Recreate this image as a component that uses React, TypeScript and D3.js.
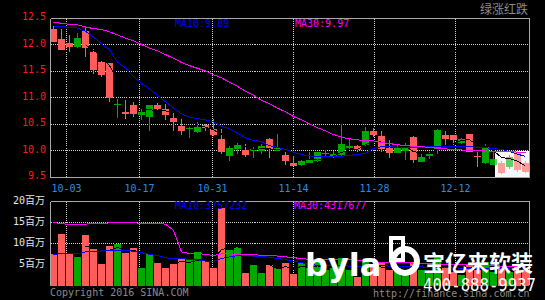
import React, { useEffect } from 'react';
import * as d3 from 'd3';

// ---- data ----
const opens = [12.29, 12.10, 12.03, 11.96, 12.25, 11.86, 11.67, 11.65, 10.86, 10.73,
  10.85, 10.67, 10.64, 10.86, 10.78, 10.62, 10.46, 10.40, 10.34, 10.49,
  10.41, 10.22, 9.90, 10.03, 10.01, 10.00, 9.99, 10.21, 10.00, 9.92,
  9.76, 9.73, 9.77, 9.80, 9.93, 9.90, 9.92, 10.05, 10.09, 10.10,
  10.36, 10.28, 10.05, 9.96, 9.99, 10.26, 9.79, 9.89, 10.02, 10.29,
  10.29, 10.15, 10.31, 9.89, 9.77, 9.73, 9.76, 9.69, 9.98, 9.76];
const closes = [12.05, 11.90, 11.96, 12.12, 11.94, 11.52, 11.42, 11.00, 10.88, 10.69,
  10.69, 10.73, 10.86, 10.78, 10.67, 10.54, 10.36, 10.42, 10.44, 10.43,
  10.29, 9.98, 10.05, 10.10, 9.92, 10.02, 10.09, 10.02, 10.04, 9.80,
  9.71, 9.80, 9.82, 9.97, 9.96, 9.94, 10.12, 10.09, 10.01, 10.37,
  10.29, 10.03, 9.96, 10.05, 10.04, 9.82, 9.88, 9.93, 10.39, 10.22,
  10.20, 10.22, 9.98, 9.87, 10.07, 9.84, 9.58, 9.88, 9.63, 9.60];
const highs = [12.34, 12.30, 12.18, 12.22, 12.31, 11.91, 11.69, 11.66, 10.97, 10.95,
  10.93, 10.79, 10.86, 10.90, 10.87, 10.70, 10.59, 10.44, 10.54, 10.50,
  10.60, 10.41, 10.08, 10.15, 10.12, 10.07, 10.12, 10.23, 10.32, 9.98,
  9.90, 9.82, 9.98, 9.98, 10.01, 9.99, 10.50, 10.23, 10.10, 10.45,
  10.43, 10.36, 10.20, 10.15, 10.14, 10.27, 9.95, 9.97, 10.40, 10.37,
  10.30, 10.23, 10.32, 9.97, 10.12, 9.97, 9.80, 9.92, 10.00, 9.80];
const lows = [12.05, 11.90, 11.85, 11.94, 11.76, 11.44, 11.38, 10.92, 10.62, 10.60,
  10.64, 10.58, 10.36, 10.75, 10.58, 10.36, 10.30, 10.23, 10.33, 10.36,
  10.27, 9.93, 9.81, 9.93, 9.87, 9.85, 9.94, 9.85, 9.99, 9.72,
  9.70, 9.71, 9.76, 9.78, 9.87, 9.85, 9.90, 10.03, 9.98, 10.08,
  10.26, 9.98, 9.86, 9.95, 9.83, 9.76, 9.78, 9.84, 9.93, 10.10,
  10.10, 10.12, 9.97, 9.68, 9.74, 9.72, 9.55, 9.66, 9.60, 9.57];
// volume, millions of shares
const volumes = [7.5, 12.2, 7.6, 6.7, 11.9, 8.6, 5.0, 9.4, 9.8, 7.7,
  8.9, 4.1, 7.4, 5.3, 4.1, 5.0, 6.3, 6.1, 7.9, 5.8,
  4.1, 18.3, 8.3, 9.0, 2.8, 4.8, 2.9, 4.8, 4.0, 5.3,
  2.6, 5.3, 4.0, 5.5, 3.5, 4.0, 6.5, 3.5, 1.8, 6.0,
  4.5, 5.5, 3.5, 4.0, 3.0, 5.5, 3.5, 3.0, 6.5, 4.0,
  3.0, 2.5, 5.0, 3.5, 5.5, 3.0, 4.0, 3.0, 4.5, 3.5];
const ma10 = [12.35, 12.34, 12.32, 12.31, 12.25, 12.14, 12.01, 11.90, 11.67, 11.56,
  11.39, 11.27, 11.16, 11.04, 10.92, 10.80, 10.69, 10.63, 10.60, 10.58,
  10.54, 10.46, 10.41, 10.33, 10.24, 10.19, 10.17, 10.09, 10.06, 10.02,
  9.97, 9.92, 9.90, 9.88, 9.88, 9.88, 9.89, 9.91, 9.92, 9.95,
  10.04, 10.07, 10.07, 10.06, 10.05, 10.05, 10.06, 10.07, 10.07, 10.08,
  10.07, 10.07, 10.07, 10.06, 10.05, 10.04, 10.02, 9.98, 9.93, 9.89];
const ma30 = [12.42, 12.40, 12.38, 12.37, 12.33, 12.30, 12.28, 12.24, 12.18, 12.12,
  12.07, 12.00, 11.93, 11.88, 11.81, 11.74, 11.66, 11.60, 11.55, 11.50,
  11.43, 11.37, 11.29, 11.21, 11.12, 11.04, 10.95, 10.88, 10.80, 10.73,
  10.64, 10.58, 10.50, 10.43, 10.37, 10.30, 10.25, 10.22, 10.20, 10.19,
  10.18, 10.15, 10.13, 10.11, 10.09, 10.08, 10.07, 10.06, 10.04, 10.03,
  10.02, 10.01, 10.00, 10.00, 9.99, 9.99, 9.98, 9.98, 9.97, 9.97];
const volMa10Last = 3757232;
const volMa30Last = 4317677;
const volMa10 = [7.2, 7.6, 7.6, 7.4, 7.9, 8.0, 8.1, 8.2, 8.2, 8.3,
  8.0, 7.7, 7.3, 7.0, 6.5, 6.2, 6.3, 6.1, 6.0, 5.7,
  5.6, 6.3, 6.7, 7.0, 7.0, 6.9, 6.9, 6.6, 6.3, 6.0,
  5.7, 5.3, 4.9, 4.7, 4.7, 4.6, 4.6, 4.5, 4.5, 4.5,
  4.6, 4.6, 4.5, 4.4, 4.4, 4.4, 4.3, 4.2, 4.2, 4.2,
  4.1, 4.0, 4.0, 4.0, 4.0, 3.9, 3.9, 3.8, 3.8, volMa10Last / 1e6];
const volMa30 = [14.9, 14.6, 14.4, 14.4, 14.5, 14.6, 14.6, 14.8, 14.9, 14.9,
  14.8, 14.7, 14.7, 14.6, 14.5, 13.0, 7.9, 7.5, 7.5, 7.3,
  7.0, 7.4, 7.4, 7.3, 7.3, 7.2, 7.1, 7.0, 6.9, 6.7,
  6.5, 6.3, 6.1, 6.0, 6.0, 6.0, 6.0, 6.0, 5.9, 5.7,
  5.5, 5.4, 5.4, 5.3, 5.3, 5.2, 5.2, 5.1, 5.0, 5.0,
  4.9, 4.8, 4.8, 4.7, 4.6, 4.6, 4.5, 4.4, 4.4, volMa30Last / 1e6];
const xTickLabels = ['10-03', '10-17', '10-31', '11-14', '11-28', '12-12'];
const xTickIdx = [2.06, 11.19, 20.31, 30.44, 40.56, 50.69];
const priceTicks = [12.5, 12.0, 11.5, 11.0, 10.5, 10.0, 9.5];
const volTicks = [20, 15, 10, 5];
const volTickLabels = ['20百万', '15百万', '10百万', '5百万'];

const UP = '#00a800';
const DOWN = '#ff5c5c';
const MONO = "'DejaVu Sans Mono', monospace";
const MONO_CJK = "'DejaVu Sans Mono', 'Noto Sans CJK SC', monospace";

function movingAvg(arr: number[], k: number): (number | null)[] {
  return arr.map((_, i) => (i < k - 1 ? null : d3.mean(arr.slice(i - k + 1, i + 1)) as number));
}

export default function App() {
  useEffect(() => {
    document.body.style.margin = '0';
    document.body.style.background = '#000';
  }, []);

  const n = opens.length;
  const x = d3.scaleLinear().domain([0, n]).range([50, 530]);
  const y = d3.scaleLinear().domain([9.5, 12.5]).range([177, 18]);
  const yv = d3.scaleLinear().domain([0, 20]).range([285, 201]);
  const cx = (i: number) => x(i) + 3.5;
  const px = (v: number) => Math.floor(v) + 0.5;

  const ma5 = movingAvg(closes, 5);
  const volMa5 = movingAvg(volumes, 5);

  const priceLine = d3.line<number | null>()
    .defined((d) => d != null)
    .x((_, i) => cx(i))
    .y((d) => y(d as number));
  const volLine = d3.line<number | null>()
    .defined((d) => d != null)
    .x((_, i) => cx(i))
    .y((d) => yv(d as number));

  const L = 50.5, R = 529.5;
  const PT = px(y(12.5)), PB = px(y(9.5));
  const VT = px(yv(20)), VB = 285;

  return (
    <svg width={545} height={300} style={{ display: 'block', position: 'absolute', left: 0, top: 0, background: '#000' }}>
      <rect x={0} y={0} width={545} height={300} fill="#000" />

      {/* price grid */}
      <g stroke="#cfcfcf" strokeDasharray="1,1" shapeRendering="crispEdges">
        {priceTicks.slice(1, -1).map((t) => (
          <line key={'h' + t} x1={L} x2={R} y1={px(y(t))} y2={px(y(t))} />
        ))}
        {xTickIdx.map((k) => (
          <line key={'v' + k} x1={px(x(k))} x2={px(x(k))} y1={PT} y2={PB} />
        ))}
      </g>

      {/* faded box at lower right */}
      <rect x={495} y={151} width={34} height={26} fill="#f2f2f2" />

      {/* candles */}
      <g shapeRendering="crispEdges">
        {opens.map((o, i) => {
          const c = closes[i];
          const col = c >= o ? UP : DOWN;
          const top = Math.round(y(Math.max(o, c)));
          const bot = Math.round(y(Math.min(o, c)));
          return (
            <g key={i}>
              <line x1={cx(i)} x2={cx(i)} y1={Math.round(y(highs[i]))} y2={Math.round(y(lows[i]))} stroke={col} />
              <rect x={x(i)} y={top} width={7} height={Math.max(1, bot - top)} fill={col} />
            </g>
          );
        })}
      </g>
      <rect x={495} y={151} width={34} height={26} fill="#fff" opacity={0.4} />

      {/* price MAs */}
      <g fill="none" strokeWidth={1} shapeRendering="crispEdges">
        <path d={priceLine(ma5) || ''} stroke="#000" />
        <path d={priceLine(ma10) || ''} stroke="#0000ff" />
        <path d={priceLine(ma30) || ''} stroke="#ff00ff" />
      </g>

      {/* price frame */}
      <g stroke="#a8a8a8" fill="none" shapeRendering="crispEdges">
        <line x1={L} x2={R} y1={PT} y2={PT} />
        <line x1={L} x2={R} y1={PB} y2={PB} />
        <line x1={L} x2={L} y1={PT} y2={PB} />
        <line x1={R} x2={R} y1={PT} y2={PB} />
      </g>

      {/* price axis labels */}
      <g fontFamily={MONO} fontSize={10} fill="#ff1a1a" textAnchor="end">
        {priceTicks.map((t) => (
          <text key={t} x={46} y={y(t) + 2}>{d3.format('.1f')(t)}</text>
        ))}
      </g>
      <g fontFamily={MONO} fontSize={10} fill="#2b8de0" textAnchor="middle">
        {xTickIdx.map((k, i) => (
          <text key={k} x={px(x(k))} y={192}>{xTickLabels[i]}</text>
        ))}
      </g>
      <text x={175} y={27} fontFamily={MONO} fontSize={10} fill="#0000ff">{'MA10:' + ma10[n - 1].toFixed(2)}</text>
      <text x={295} y={27} fontFamily={MONO} fontSize={10} fill="#ff00ff">{'MA30:' + ma30[n - 1].toFixed(2)}</text>
      <text x={528} y={14} fontFamily="'Noto Sans CJK SC', sans-serif" fontSize={12} fill="#8c8c8c" textAnchor="end">绿涨红跌</text>

      {/* volume grid */}
      <g stroke="#cfcfcf" strokeDasharray="1,1" shapeRendering="crispEdges">
        {volTicks.slice(1, 3).map((t) => (
          <line key={'vh' + t} x1={L} x2={R} y1={px(yv(t))} y2={px(yv(t))} />
        ))}
        {xTickIdx.map((k) => (
          <line key={'vv' + k} x1={px(x(k))} x2={px(x(k))} y1={VT} y2={VB} />
        ))}
      </g>

      {/* volume bars */}
      <g shapeRendering="crispEdges">
        {volumes.map((v, i) => {
          const col = closes[i] >= opens[i] ? UP : DOWN;
          const top = Math.round(yv(v));
          return <rect key={i} x={x(i)} y={top} width={7} height={VB + 1 - top} fill={col} />;
        })}
      </g>
      <g fill="none" strokeWidth={1} shapeRendering="crispEdges">
        <path d={volLine(volMa5) || ''} stroke="#000" />
        <path d={volLine(volMa10) || ''} stroke="#0000ff" />
        <path d={volLine(volMa30) || ''} stroke="#ff00ff" />
      </g>
      <g stroke="#a8a8a8" fill="none" shapeRendering="crispEdges">
        <line x1={L} x2={R} y1={VT} y2={VT} />
        <line x1={L} x2={L} y1={VT} y2={VB} />
        <line x1={R} x2={R} y1={VT} y2={VB} />
      </g>
      <g fontFamily={MONO_CJK} fontSize={10} fill="#e6e6e6" textAnchor="end">
        {volTicks.map((t, i) => (
          <text key={t} x={45} y={yv(t) + 3}>{volTickLabels[i]}</text>
        ))}
      </g>
      <text x={175} y={209} fontFamily={MONO} fontSize={10} fill="#0000ff">{'MA10:' + volMa10Last}</text>
      <text x={294} y={209} fontFamily={MONO} fontSize={10} fill="#ff00ff">{'MA30:' + volMa30Last}</text>

      <text x={50} y={296} fontFamily={MONO} fontSize={10} fill="#8a8a8a">Copyright 2016 SINA.COM</text>
      <text x={373} y={297} fontFamily={MONO} fontSize={10} fill="#8a8a8a">http://finance.sina.com.cn</text>

      {/* watermark */}
      <g fill="#fff">
        <text x={305} y={276} fontFamily="'DejaVu Sans', sans-serif" fontWeight="bold" fontSize={32}>byla</text>
        <rect x={391} y={238} width={12} height={22} fill="none" stroke="#fff" strokeWidth={4} />
        <circle cx={405} cy={261} r={12} fill="none" stroke="#fff" strokeWidth={6} />
        <text x={423} y={271} fontFamily="'Noto Sans CJK SC', sans-serif" fontWeight="bold" fontSize={22}>宝亿来软装</text>
        <text x={423} y={291} fontFamily={MONO} fontSize={17} textLength={113} lengthAdjust="spacingAndGlyphs">400-888-9937</text>
      </g>
    </svg>
  );
}
